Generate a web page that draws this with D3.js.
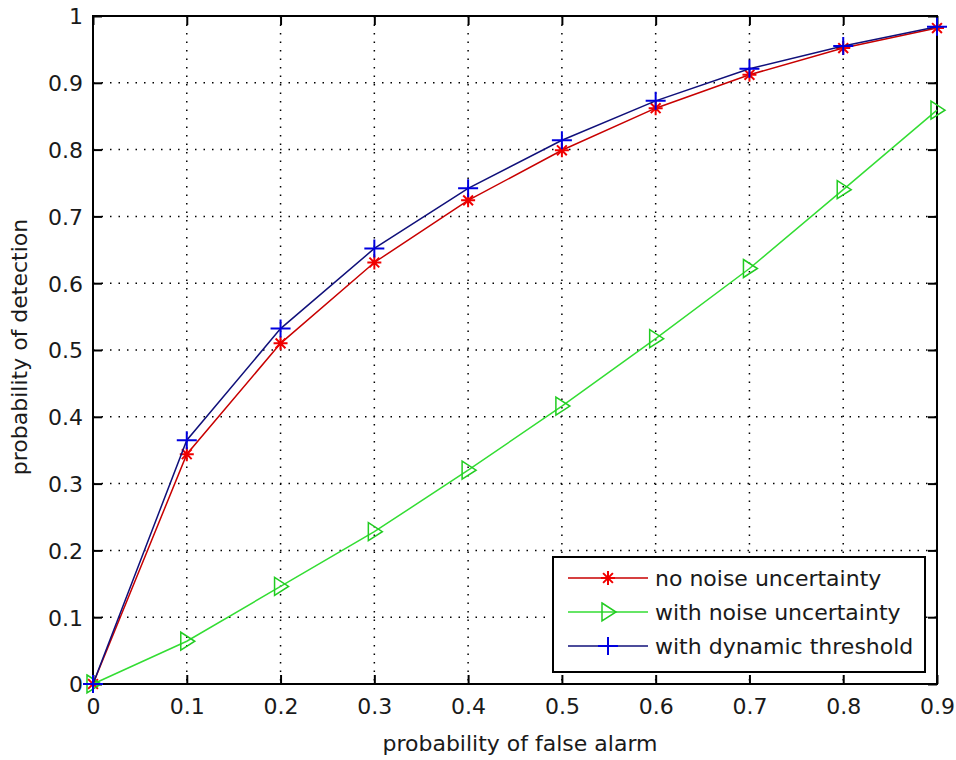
<!DOCTYPE html>
<html>
<head>
<meta charset="utf-8">
<script src="https://cdn.jsdelivr.net/npm/d3@7"></script>
<style>
  body { margin: 0; background: #fff; }
  svg { display: block; }
  text { font-family: "DejaVu Sans", sans-serif; fill: #1a1a1a; }
</style>
</head>
<body>
<div id="chart"></div>
<script>
// probability of false alarm
const pfa = [0, 0.1, 0.2, 0.3, 0.4, 0.5, 0.6, 0.7, 0.8, 0.9];
// probability of detection for each case
const noNoise = [0, 0.344, 0.510, 0.631, 0.724, 0.799, 0.862, 0.912, 0.952, 0.982];
const withNoise = [0, 0.064, 0.146, 0.228, 0.320, 0.416, 0.517, 0.622, 0.740, 0.859];
const dynThreshold = [0, 0.365, 0.532, 0.652, 0.742, 0.814, 0.873, 0.921, 0.955, 0.984];
const xTicks = [0, 0.1, 0.2, 0.3, 0.4, 0.5, 0.6, 0.7, 0.8, 0.9];
const yTicks = [0, 0.1, 0.2, 0.3, 0.4, 0.5, 0.6, 0.7, 0.8, 0.9, 1];

const series = [
    { name: "no noise uncertainty", values: noNoise, color: "#c80000", mark: "#f00000", marker: "star" },
    { name: "with noise uncertainty", values: withNoise, color: "#33dd33", mark: "#22cc22", marker: "tri" },
    { name: "with dynamic threshold", values: dynThreshold, color: "#10107a", mark: "#0000e0", marker: "plus" }
];

const W = 956, H = 760;
const margin = { top: 16, right: 19, bottom: 76, left: 93 };
const width = W - margin.left - margin.right;
const height = H - margin.top - margin.bottom;
const fontSize = "22px";

const svg = d3.select("#chart").append("svg")
    .attr("width", W)
    .attr("height", H);

const g = svg.append("g")
    .attr("transform", `translate(${margin.left},${margin.top})`);

const x = d3.scaleLinear().domain([0, 0.9]).range([0, width]);
const y = d3.scaleLinear().domain([0, 1]).range([height, 0]);

// Dotted grid
g.append("g").selectAll("line")
    .data(xTicks.slice(1, -1))
    .enter().append("line")
    .attr("x1", d => x(d)).attr("x2", d => x(d))
    .attr("y1", 0).attr("y2", height)
    .attr("stroke", "#000")
    .attr("stroke-width", 1.5)
    .attr("stroke-dasharray", "1.5,7");

g.append("g").selectAll("line")
    .data(yTicks.slice(1, -1))
    .enter().append("line")
    .attr("y1", d => y(d)).attr("y2", d => y(d))
    .attr("x1", 0).attr("x2", width)
    .attr("stroke", "#000")
    .attr("stroke-width", 1.5)
    .attr("stroke-dasharray", "1.5,7");

// Axes with inward ticks on all four sides
const tickLen = 9;
const fmt = d => d3.format("")(+d.toFixed(1));

const xAxis = g.append("g")
    .attr("transform", `translate(0,${height})`)
    .call(d3.axisBottom(x).tickValues(xTicks).tickSizeInner(-tickLen).tickSizeOuter(0).tickPadding(14).tickFormat(fmt));
const yAxis = g.append("g")
    .call(d3.axisLeft(y).tickValues(yTicks).tickSizeInner(-tickLen).tickSizeOuter(0).tickPadding(10).tickFormat(fmt));
const xTop = g.append("g")
    .call(d3.axisTop(x).tickValues(xTicks).tickSizeInner(-tickLen).tickSizeOuter(0).tickFormat(""));
const yRight = g.append("g")
    .attr("transform", `translate(${width},0)`)
    .call(d3.axisRight(y).tickValues(yTicks).tickSizeInner(-tickLen).tickSizeOuter(0).tickFormat(""));

[xAxis, yAxis, xTop, yRight].forEach(a => {
    a.select(".domain").remove();
    a.selectAll("line").attr("stroke", "#000").attr("stroke-width", 2);
    a.selectAll("text")
        .style("font-size", fontSize)
        .style("font-family", "'DejaVu Sans', sans-serif")
        .attr("fill", "#1a1a1a");
});
yAxis.selectAll("text").attr("dy", "0.36em");
xAxis.selectAll("text").attr("dy", "0.71em");

// Plot box
g.append("rect")
    .attr("x", 0).attr("y", 0)
    .attr("width", width).attr("height", height)
    .attr("fill", "none")
    .attr("stroke", "#000")
    .attr("stroke-width", 2);

// Marker drawing
function drawMarker(sel, type, color) {
    if (type === "star") {
        const r = 7;
        sel.append("path")
            .attr("d", `M${-r},0H${r}M0,${-r}V${r}M${-r * 0.7},${-r * 0.7}L${r * 0.7},${r * 0.7}M${-r * 0.7},${r * 0.7}L${r * 0.7},${-r * 0.7}`)
            .attr("stroke", color).attr("stroke-width", 2).attr("fill", "none");
    } else if (type === "plus") {
        sel.append("path")
            .attr("d", "M-10,0H10M0,-9V9")
            .attr("stroke", color).attr("stroke-width", 2).attr("fill", "none");
    } else {
        sel.append("path")
            .attr("d", "M-6,-9L8,0L-6,9Z")
            .attr("stroke", color).attr("stroke-width", 1.5).attr("fill", "none");
    }
}

const line = d3.line().x((d, i) => x(pfa[i])).y(d => y(d));

series.forEach(s => {
    g.append("path")
        .datum(s.values)
        .attr("d", line)
        .attr("fill", "none")
        .attr("stroke", s.color)
        .attr("stroke-width", 1.5);
    s.values.forEach((v, i) => {
        const m = g.append("g").attr("transform", `translate(${x(pfa[i])},${y(v)})`);
        drawMarker(m, s.marker, s.mark);
    });
});

// Legend
const lg = svg.append("g").attr("transform", "translate(553,557)");
lg.append("rect")
    .attr("width", 372).attr("height", 115)
    .attr("fill", "#fff").attr("stroke", "#000").attr("stroke-width", 2);
series.forEach((s, i) => {
    const ly = 21 + i * 34;
    lg.append("line")
        .attr("x1", 15).attr("x2", 95)
        .attr("y1", ly).attr("y2", ly)
        .attr("stroke", s.color).attr("stroke-width", 1.5);
    const m = lg.append("g").attr("transform", `translate(55,${ly})`);
    drawMarker(m, s.marker, s.mark);
    lg.append("text")
        .attr("x", 102).attr("y", ly)
        .attr("dy", "0.36em")
        .style("font-size", fontSize)
        .text(s.name);
});

// Axis labels
svg.append("text")
    .attr("x", margin.left + width / 2 + 5)
    .attr("y", 751)
    .attr("text-anchor", "middle")
    .style("font-size", fontSize)
    .text("probability of false alarm");

svg.append("text")
    .attr("transform", `translate(27,${margin.top + height / 2 - 3}) rotate(-90)`)
    .attr("text-anchor", "middle")
    .style("font-size", fontSize)
    .text("probability of detection");
</script>
</body>
</html>
